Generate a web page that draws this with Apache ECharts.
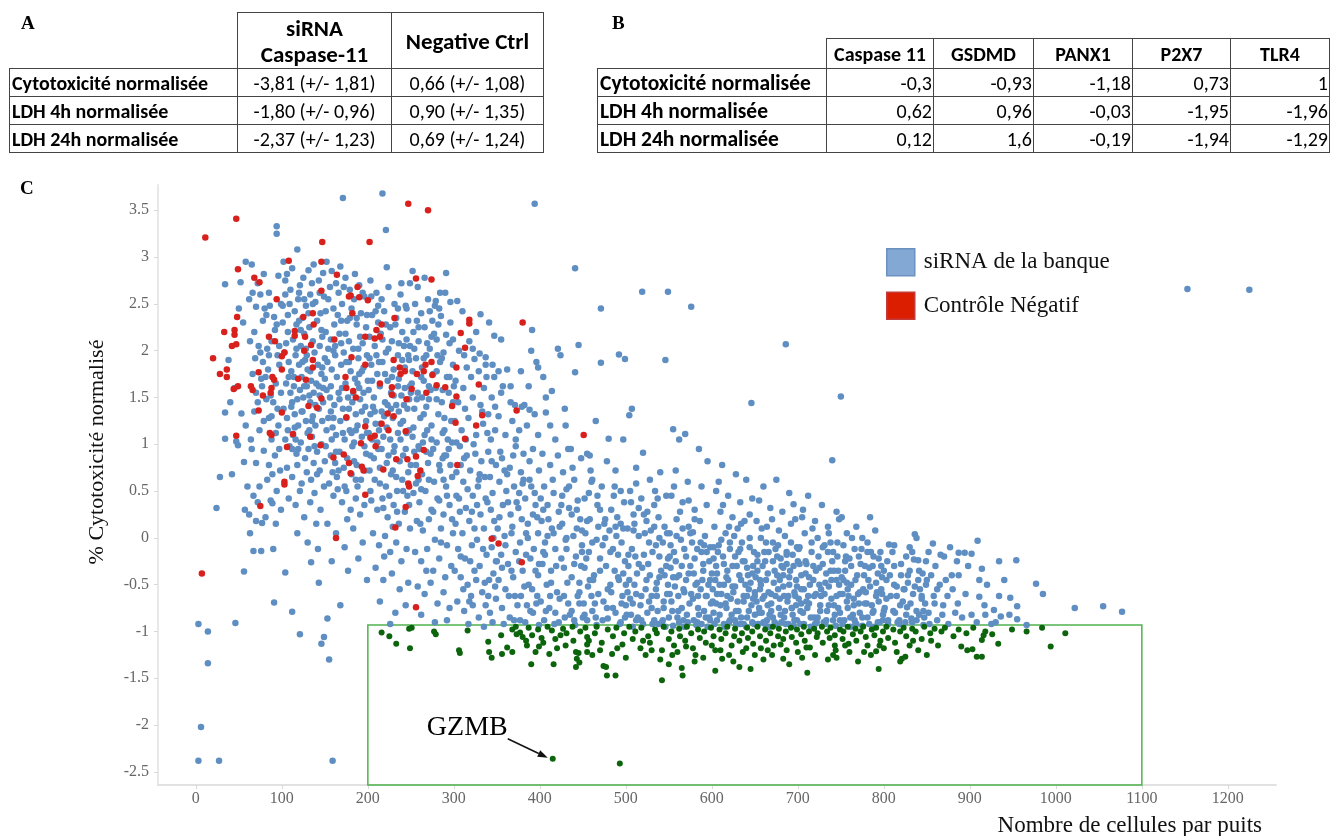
<!DOCTYPE html>
<html>
<head>
<meta charset="utf-8">
<script src="https://cdn.jsdelivr.net/npm/echarts/dist/echarts.min.js"></script>
<style>
html,body{margin:0;padding:0;background:#fff;overflow:hidden;}
#chart{position:absolute;left:0;top:0;width:1338px;height:836px;}
.tbl{position:absolute;border-collapse:collapse;table-layout:fixed;font-family:"Carlito","Lato",sans-serif;color:#000;z-index:5;}
.tbl td,.tbl th{border:1px solid #444;padding:0 3px;white-space:nowrap;overflow:hidden;}
.tbl td.blank{border-top:none;border-left:none;}
.tbl th{font-weight:bold;text-align:center;}
.tbl td.lab{font-weight:bold;text-align:left;padding-left:2px;}
.panel{position:absolute;font-family:"Liberation Serif",serif;font-weight:bold;font-size:19px;color:#000;z-index:5;}
</style>
</head>
<body>
<div id="chart"></div>
<div class="panel" style="left:21px;top:12px">A</div>
<div class="panel" style="left:612px;top:12px">B</div>
<table id="tA" class="tbl" style="left:9px;top:12px"></table>
<table id="tB" class="tbl" style="left:597px;top:38px"></table>
<script>
// ---------- table data ----------
const tableAHeaders = ["siRNA<br>Caspase-11", "Negative Ctrl"];
const tableARows = ["Cytotoxicité normalisée", "LDH 4h normalisée", "LDH 24h normalisée"];
const tableASiRNA = ["-3,81 (+/- 1,81)", "-1,80 (+/- 0,96)", "-2,37 (+/- 1,23)"];
const tableANeg = ["0,66 (+/- 1,08)", "0,90 (+/- 1,35)", "0,69 (+/- 1,24)"];

const tableBHeaders = ["Caspase 11", "GSDMD", "PANX1", "P2X7", "TLR4"];
const tableBRows = ["Cytotoxicité normalisée", "LDH 4h normalisée", "LDH 24h normalisée"];
const tableBCytotox = ["-0,3", "-0,93", "-1,18", "0,73", "1"];
const tableBLdh4 = ["0,62", "0,96", "-0,03", "-1,95", "-1,96"];
const tableBLdh24 = ["0,12", "1,6", "-0,19", "-1,94", "-1,29"];

// ---------- axis ticks ----------
const xTicks = [0, 100, 200, 300, 400, 500, 600, 700, 800, 900, 1000, 1100, 1200];
const yTicks = [-2.5, -2, -1.5, -1, -0.5, 0, 0.5, 1, 1.5, 2, 2.5, 3, 3.5];
const xRange = [-44, 1256];
const yRange = [-2.64, 3.77];

// ---------- hit window & annotation ----------
const hitBox = { x0: 200, x1: 1100, yTop: -0.93 };
const gzmbPoint = [415, -2.36];
const gzmbName = "GZMB";

// ---------- scatter data (cells per well, normalised cytotoxicity) ----------
const blueData = [
[3,-0.92],[14,-1.0],[14,-1.34],[46,-0.91],[6,-2.02],[3,-2.38],[27,-2.38],[34,2.71],[34,1.34],[34,1.06],[42,0.68],[52,2.73],[53,1.33],[47,1.03],[49,0.99],[56,0.81],[24,0.32],[57,0.3],[56,-0.36],[58,2.95],[45,1.6],[38,1.9],[55,2.3],[50,2.45],[40,1.45],[58,1.2],[28,0.65],
[62,0.25],[70,0.18],[77,0.16],[89,0.37],[67,-0.14],[76,-0.14],[91,-0.69],[94,3.33],[94,3.25],
[65,2.92],[72,2.72],[62,2.55],[75,2.6],[80,2.45],[82,2.38],[78,2.32],[70,2.47],[86,2.48],[91,2.36],[68,2.2],[88,2.1],[75,1.98],[95,1.95],[84,1.8],[66,1.75],[93,1.65],[77,1.62],[99,1.55],[90,1.45],[68,1.35],[85,1.28],[96,1.2],[74,1.15],[88,1.05],[64,1.05],[79,0.93],[92,0.88],[70,0.8],[98,0.72],[83,0.62],[60,0.55],[94,0.5],[87,0.4],[72,0.38],[99,0.3],[81,0.22],[63,0.05],[90,-0.12],[96,2.8],[85,2.62],[92,2.22],[73,2.05],[97,1.85],[81,1.72],[70,1.55],[87,1.52],[95,1.38],[79,1.25],[65,0.95],[85,0.78],[97,0.95],[74,0.55],[89,0.68],[67,0.45],[93,0.15],[83,2.02],[78,1.88],[99,2.5],[72,1.45],
[102,2.95],[106,2.82],[112,2.88],[118,3.08],[121,2.7],[125,2.78],[131,2.86],[137,2.92],[143,2.75],[148,2.83],[104,2.6],[109,2.5],[115,2.42],[119,2.55],[124,2.35],[128,2.48],[133,2.6],[139,2.52],[145,2.4],[149,2.58],[101,2.3],[107,2.2],[113,2.12],[117,2.28],[122,2.05],[126,2.18],[132,2.25],[136,2.1],[141,2.32],[147,2.15],[103,1.98],[108,1.88],[111,1.78],[116,1.95],[120,1.85],[123,1.72],[127,1.9],[130,1.8],[134,1.68],[138,1.98],[142,1.85],[146,1.75],[150,1.92],[105,1.65],[110,1.55],[114,1.62],[118,1.48],[121,1.58],[125,1.5],[129,1.62],[133,1.45],[137,1.55],[140,1.65],[144,1.52],[148,1.6],[102,1.38],[106,1.28],[111,1.4],[115,1.32],[119,1.2],[124,1.35],[128,1.25],[132,1.15],[136,1.3],[139,1.2],[143,1.38],[147,1.25],[104,1.05],[109,0.98],[113,1.1],[117,0.9],[122,1.02],[127,0.85],[131,0.95],[135,1.08],[141,0.92],[146,1.0],[150,0.82],[106,0.75],[112,0.65],[118,0.78],[123,0.58],[129,0.7],[134,0.62],[138,0.48],[144,0.72],[149,0.55],[108,0.42],[116,0.35],[121,0.5],[126,0.22],[133,0.38],[140,0.15],[145,0.3],[104,-0.37],[112,-0.79],[121,-1.03],[134,-0.26],[143,-0.48],[146,-1.13],[149,-1.06],[130,-0.05],[118,0.05],[142,-0.12],[110,2.65],[135,2.72],[128,2.02],[114,1.72],[139,1.42],[107,1.15],[126,1.62],[131,2.4],[144,2.05],[120,2.62],[137,0.8],[116,1.05],[124,1.88],
[171,3.63],[155,-1.3],[153,-0.86],[168,-0.72],[159,-2.38],
[152,2.95],[158,2.85],[163,2.72],[168,2.9],[174,2.78],[179,2.65],[185,2.82],[190,2.7],[196,2.58],[154,2.55],[160,2.45],[165,2.38],[170,2.5],[176,2.32],[181,2.45],[187,2.28],[192,2.4],[198,2.25],[151,2.2],[157,2.12],[162,2.05],[167,2.18],[172,1.98],[178,2.1],[183,2.02],[189,1.92],[194,2.08],[199,1.95],[153,1.88],[158,1.8],[164,1.72],[169,1.85],[174,1.65],[180,1.78],[185,1.7],[190,1.6],[195,1.82],[200,1.68],[152,1.58],[156,1.5],[161,1.42],[166,1.55],[171,1.38],[177,1.5],[182,1.45],[186,1.32],[191,1.48],[197,1.4],[154,1.28],[159,1.18],[163,1.1],[168,1.25],[173,1.05],[179,1.15],[184,1.02],[188,1.2],[193,1.08],[199,1.12],[151,0.98],[157,0.88],[162,0.8],[167,0.92],[172,0.75],[176,0.85],[181,0.68],[187,0.78],[192,0.62],[197,0.72],[155,0.58],[160,0.45],[165,0.52],[170,0.38],[175,0.5],[180,0.3],[186,0.42],[191,0.25],[196,0.35],[153,0.15],[163,0.05],[173,-0.1],[183,0.1],[194,-0.05],[158,-0.25],[177,-0.35],[189,-0.22],[199,-0.45],[166,2.62],[184,2.55],[161,2.28],[178,1.88],[195,1.55],[170,1.6],[186,1.15],[164,0.65],[198,0.9],[175,1.28],[157,1.35],[182,0.98],[169,2.32],[191,2.15],[193,1.78],[150,1.7],[188,0.55],[176,0.2],[160,2.0],
[217,3.68],[221,3.29],[222,2.89],
[203,2.75],[210,2.62],[216,2.55],[224,2.68],[231,2.5],[238,2.6],[245,2.45],[249,2.72],[205,2.38],[212,2.3],[219,2.42],[226,2.25],[233,2.35],[240,2.2],[247,2.32],[202,2.15],[208,2.05],[215,2.18],[221,1.98],[228,2.1],[235,1.95],[242,2.05],[248,1.9],[204,1.85],[211,1.75],[217,1.88],[223,1.68],[230,1.8],[236,1.7],[243,1.82],[249,1.62],[201,1.58],[207,1.5],[214,1.62],[220,1.45],[227,1.55],[233,1.42],[239,1.52],[246,1.38],[203,1.32],[209,1.22],[216,1.35],[222,1.18],[229,1.28],[235,1.12],[241,1.25],[248,1.15],[205,1.05],[212,0.95],[218,1.08],[224,0.88],[231,0.98],[237,0.82],[244,0.95],[250,0.78],[202,0.72],[208,0.62],[214,0.75],[221,0.55],[227,0.68],[234,0.5],[240,0.62],[246,0.45],[204,0.4],[211,0.3],[217,0.42],[223,0.22],[230,0.35],[236,0.15],[243,0.28],[249,0.1],[206,0.05],[213,-0.08],[220,0.02],[226,-0.15],[233,-0.05],[239,-0.25],[245,-0.12],[209,-0.32],[218,-0.45],[228,-0.38],[237,-0.55],[247,-0.48],[214,-0.68],[232,-0.8],[244,-0.72],[226,-0.92],[210,1.95],[228,1.72],[245,2.12],[219,1.3],[238,1.05],[207,0.85],[225,0.45],[241,0.5],[212,2.48],[235,2.45],[230,1.52],[216,0.95],[248,1.48],[203,0.5],[222,0.8],[240,1.9],[234,0.28],[247,0.7],[206,1.4],[229,0.12],[243,1.6],[213,1.15],[236,1.35],[219,-0.2],
[252,2.85],[258,2.68],[266,2.78],[279,2.53],[291,2.83],[290,2.62],[278,2.48],[285,2.37],[291,2.17],[255,2.5],[262,2.4],[270,2.55],[275,2.32],[283,2.45],[296,2.3],[253,2.2],[259,2.1],[266,2.25],[272,2.02],[280,2.12],[288,1.98],[295,2.08],[256,1.92],[263,1.82],[268,1.95],[276,1.75],[284,1.88],[292,1.72],[299,1.85],[251,1.65],[258,1.55],[265,1.68],[271,1.48],[279,1.6],[286,1.45],[294,1.55],[254,1.38],[261,1.28],[268,1.4],[274,1.2],[282,1.32],[289,1.15],[297,1.25],[252,1.08],[259,0.98],[266,1.1],[273,0.9],[280,1.02],[287,0.85],[294,0.95],[256,0.78],[263,0.68],[270,0.8],[277,0.6],[284,0.72],[291,0.55],[298,0.65],[253,0.48],[260,0.38],[267,0.5],[274,0.3],[281,0.42],[288,0.25],[295,0.35],[257,0.18],[264,0.08],[271,0.2],[278,-0.02],[285,0.1],[292,-0.08],[299,0.05],[255,-0.15],[262,-0.25],[269,-0.12],[276,-0.35],[283,-0.22],[290,-0.42],[297,-0.3],[258,-0.52],[266,-0.6],[273,-0.48],[281,-0.7],[288,-0.58],[295,-0.75],[262,-0.82],[278,-0.9],[292,-0.88],[252,1.78],[269,1.15],[287,1.58],[259,0.62],[276,0.95],[293,1.05],[265,1.92],[282,2.28],[298,0.2],[257,2.32],[271,0.62],[289,0.88],[254,0.92],[268,-0.35],[285,-0.05],[299,1.45],[263,1.5],[280,1.78],[296,0.78],[274,2.15],[261,0.15],[283,0.4],
[304,2.53],[331,2.39],[326,2.2],[347,2.16],[324,1.91],[330,1.97],[337,1.93],[337,1.85],[347,1.72],[329,1.78],[310,2.42],[318,2.1],[341,2.3],[306,2.0],[315,1.82],[302,1.68],[311,1.6],[320,1.72],[335,1.6],[344,1.5],[305,1.45],[313,1.38],[322,1.5],[331,1.42],[340,1.32],[348,1.4],[301,1.25],[309,1.15],[317,1.28],[326,1.1],[334,1.22],[343,1.05],[307,0.98],[315,0.88],[323,1.0],[332,0.82],[340,0.92],[349,0.78],[303,0.7],[311,0.6],[319,0.72],[328,0.55],[336,0.65],[345,0.48],[306,0.42],[314,0.32],[322,0.45],[331,0.25],[339,0.38],[347,0.18],[302,0.15],[310,0.05],[318,0.18],[327,-0.02],[335,0.1],[344,-0.1],[305,-0.12],[313,-0.22],[321,-0.08],[330,-0.3],[338,-0.18],[346,-0.38],[308,-0.42],[316,-0.5],[324,-0.35],[333,-0.58],[341,-0.45],[349,-0.65],[304,-0.68],[312,-0.78],[320,-0.62],[329,-0.85],[337,-0.72],[345,-0.9],[317,-0.92],[335,-0.95],[312,1.95],[338,1.72],[325,0.9],[342,0.65],[308,0.78],[327,0.35],[346,0.0],[301,-0.35],[319,-0.25],[336,-0.48],[348,1.15],[314,1.05],[330,0.68],[343,0.3],[307,0.28],[322,-0.72],[340,-0.62],[303,1.02],[333,1.35],[316,0.52],[349,-0.25],[324,0.1],[311,-0.55],[339,1.12],
[394,3.57],[390,2.0],[396,1.88],[398,1.82],[391,2.22],[387,1.62],[382,1.42],[388,1.37],[379,1.4],[371,1.42],[362,1.8],[355,1.55],[368,1.25],[376,1.15],[385,1.2],[398,1.1],[352,1.3],[360,1.1],[372,0.98],[381,0.9],[392,0.95],[356,0.85],[365,0.75],[378,0.7],[388,0.62],[399,0.72],[353,0.6],[361,0.5],[370,0.55],[383,0.42],[394,0.48],[357,0.35],[366,0.25],[375,0.32],[386,0.15],[397,0.22],[351,0.1],[359,0.02],[368,0.12],[377,-0.05],[384,0.05],[393,-0.12],[355,-0.18],[363,-0.28],[372,-0.15],[380,-0.35],[389,-0.22],[398,-0.4],[352,-0.45],[360,-0.55],[369,-0.42],[378,-0.62],[387,-0.5],[396,-0.7],[356,-0.75],[365,-0.85],[374,-0.72],[383,-0.9],[392,-0.8],[399,-0.93],[358,-0.92],[371,-0.62],[384,-0.18],[395,0.35],[362,0.68],[379,0.2],[391,-0.55],[354,0.92],[367,-0.35],[388,0.82],[376,0.48],[398,0.05],[350,-0.25],[363,0.38],[385,-0.72],[372,1.05],[357,1.62],[394,1.32],[366,1.45],[381,0.62],[352,1.78],[399,-0.28],[369,0.88],[390,0.55],[360,-0.08],[377,-0.88],
[441,2.88],[445,2.06],[421,2.02],[424,1.95],[441,1.77],[414,1.57],[407,1.5],[407,1.34],[430,1.2],[418,1.05],[436,0.95],[448,0.85],[403,0.9],[412,0.78],[427,0.7],[440,0.62],[405,0.55],[416,0.48],[431,0.52],[444,0.4],[409,0.35],[422,0.28],[434,0.32],[447,0.2],[402,0.18],[414,0.1],[426,0.15],[439,0.02],[449,0.08],[406,-0.05],[418,-0.12],[430,-0.02],[442,-0.2],[403,-0.28],[413,-0.35],[425,-0.22],[437,-0.42],[448,-0.3],[408,-0.5],[420,-0.58],[432,-0.48],[444,-0.62],[401,-0.68],[411,-0.75],[423,-0.65],[435,-0.82],[446,-0.7],[405,-0.88],[417,-0.92],[429,-0.85],[441,-0.93],[450,-0.85],[415,0.62],[438,0.75],[428,-0.32],[409,0.02],[446,-0.48],[421,0.88],[433,-0.7],[404,0.3],[443,0.1],[426,0.45],[412,-0.62],[449,-0.15],[437,0.25],[418,-0.8],[431,0.0],[406,-0.18],[440,-0.88],[423,0.12],
[471,2.45],[471,1.87],[492,1.96],[499,1.91],[480,1.06],[497,1.05],[465,1.25],[455,0.9],[478,0.82],[488,0.72],[460,0.6],[472,0.55],[494,0.5],[452,0.42],[467,0.35],[483,0.3],[498,0.38],[458,0.2],[475,0.15],[490,0.22],[453,0.05],[466,-0.02],[481,0.08],[495,-0.05],[457,-0.15],[470,-0.22],[485,-0.12],[499,-0.25],[452,-0.32],[463,-0.4],[477,-0.3],[492,-0.45],[456,-0.52],[468,-0.6],[482,-0.5],[496,-0.62],[451,-0.7],[461,-0.78],[474,-0.68],[488,-0.8],[500,-0.72],[455,-0.88],[466,-0.93],[479,-0.86],[493,-0.92],[459,0.72],[486,0.45],[473,-0.08],[497,-0.38],[462,-0.45],[489,0.02],[454,-0.22],[478,-0.75],[494,0.15],[470,0.3],[483,-0.58],[465,-0.85],[491,-0.18],[457,0.48],[476,0.0],[499,-0.85],[468,0.12],[487,-0.35],[460,-0.62],[495,-0.7],
[507,1.38],[504,1.31],[520,0.91],[519,2.63],[549,2.63],[546,1.9],[512,0.75],[528,0.62],[540,0.7],[505,0.5],[518,0.42],[533,0.35],[547,0.45],[509,0.25],[524,0.18],[538,0.22],[502,0.1],[515,0.02],[529,0.08],[543,-0.05],[507,-0.12],[521,-0.18],[535,-0.08],[549,-0.22],[503,-0.3],[513,-0.38],[526,-0.28],[539,-0.42],[510,-0.5],[523,-0.55],[536,-0.48],[548,-0.6],[505,-0.65],[517,-0.72],[530,-0.62],[544,-0.75],[501,-0.82],[512,-0.88],[525,-0.8],[538,-0.92],[550,-0.85],[508,-0.95],[520,-0.92],[533,-0.88],[546,-0.95],[515,0.32],[531,-0.15],[545,0.12],[504,-0.45],[527,-0.68],[541,-0.35],[511,-0.2],[537,-0.78],[522,0.05],[549,-0.5],[506,0.38],[534,0.5],[518,-0.62],[543,-0.88],[528,-0.4],[514,-0.85],[539,0.0],[502,-0.58],[525,0.28],[547,-0.3],[510,0.15],[531,-0.92],[519,-0.32],[544,-0.68],[535,-0.55],[508,-0.7],
[576,2.47],[555,1.16],[569,1.11],[562,1.05],[585,0.95],[595,0.82],[558,0.72],[572,0.6],[588,0.55],[553,0.45],[566,0.38],[580,0.3],[594,0.35],[559,0.2],[573,0.12],[586,0.18],[551,0.05],[564,-0.02],[578,0.06],[591,-0.08],[556,-0.15],[570,-0.2],[583,-0.12],[597,-0.25],[552,-0.32],[562,-0.4],[575,-0.3],[589,-0.45],[600,-0.38],[557,-0.52],[568,-0.58],[581,-0.5],[594,-0.62],[553,-0.68],[565,-0.75],[578,-0.65],[591,-0.78],[560,-0.85],[572,-0.9],[585,-0.82],[598,-0.88],[555,-0.94],[568,-0.95],[582,-0.93],[595,-0.95],[563,0.28],[579,-0.38],[592,0.02],[558,-0.25],[574,-0.7],[587,-0.55],[551,-0.6],[566,0.1],[599,-0.7],[583,-0.9],[570,-0.45],[590,-0.28],[556,0.55],[577,-0.05],[596,-0.5],[561,-0.78],[588,-0.15],[573,0.4],[552,-0.08],[584,-0.62],[567,-0.88],[593,-0.85],[559,-0.42],[580,0.2],[598,-0.1],
[646,1.44],[612,0.78],[628,0.68],[640,0.62],[605,0.5],[619,0.45],[633,0.38],[647,0.42],[610,0.28],[624,0.22],[638,0.18],[603,0.12],[616,0.05],[630,0.1],[644,0.0],[608,-0.08],[621,-0.12],[635,-0.05],[649,-0.15],[602,-0.22],[614,-0.28],[627,-0.2],[641,-0.32],[606,-0.38],[619,-0.45],[632,-0.4],[645,-0.48],[601,-0.55],[611,-0.6],[624,-0.52],[637,-0.62],[650,-0.58],[605,-0.7],[617,-0.75],[630,-0.68],[643,-0.78],[609,-0.82],[621,-0.88],[634,-0.85],[647,-0.9],[603,-0.92],[615,-0.95],[628,-0.93],[640,-0.95],[613,0.35],[636,-0.25],[622,-0.65],[648,-0.65],[607,-0.15],[631,-0.78],[644,0.25],[618,-0.35],[626,0.02],[639,-0.5],[604,-0.45],[620,-0.9],[634,0.15],[650,-0.82],[611,-0.02],[642,-0.4],[625,-0.58],[608,0.6],[637,-0.92],[616,-0.7],[629,-0.3],[646,-0.72],[602,-0.8],[614,-0.5],[633,-0.12],[648,-0.3],[620,0.12],[641,-0.62],[606,-0.6],[627,-0.88],
[686,2.07],[660,0.55],[675,0.62],[690,0.48],[695,0.36],[655,0.4],[668,0.32],[682,0.28],[697,0.2],[652,0.18],[664,0.12],[678,0.08],[692,0.15],[657,0.0],[671,-0.05],[685,0.02],[699,-0.1],[653,-0.18],[666,-0.15],[680,-0.22],[694,-0.18],[659,-0.3],[673,-0.35],[687,-0.28],[651,-0.42],[663,-0.45],[676,-0.4],[690,-0.5],[656,-0.55],[669,-0.6],[683,-0.52],[697,-0.62],[652,-0.68],[665,-0.72],[679,-0.65],[693,-0.75],[658,-0.8],[671,-0.85],[685,-0.78],[699,-0.88],[654,-0.92],[667,-0.95],[681,-0.9],[695,-0.94],[662,-0.25],[677,-0.55],[691,-0.35],[655,-0.75],[670,0.2],[684,-0.85],[698,-0.45],[661,-0.62],[674,-0.12],[688,-0.68],[653,-0.35],[667,-0.82],[681,-0.3],[696,-0.58],[658,0.1],[672,-0.48],[686,-0.92],[700,-0.25],[664,-0.88],[678,-0.75],[692,-0.05],[657,-0.5],[683,-0.4],[669,-0.7],[694,-0.82],[660,-0.9],[676,-0.2],[689,-0.62],[663,-0.05],[687,-0.15],[675,-0.92],[698,-0.72],
[750,1.51],[740,0.83],[712,0.45],[728,0.35],[745,0.28],[705,0.22],[720,0.18],[735,0.12],[748,0.2],[708,0.05],[723,0.0],[738,-0.05],[702,-0.1],[716,-0.15],[731,-0.08],[746,-0.2],[710,-0.28],[725,-0.32],[740,-0.25],[704,-0.4],[718,-0.45],[733,-0.38],[748,-0.5],[707,-0.55],[721,-0.6],[736,-0.52],[701,-0.65],[713,-0.7],[727,-0.62],[742,-0.72],[706,-0.8],[719,-0.85],[734,-0.78],[749,-0.88],[703,-0.92],[715,-0.95],[730,-0.9],[744,-0.94],[724,-0.2],[739,-0.65],[711,-0.75],[747,-0.35],[717,0.1],[732,-0.48],[709,-0.38],[743,-0.82],[726,-0.72],[702,-0.28],[736,0.05],[720,-0.92],[749,-0.6],[714,-0.5],[729,-0.1],[745,-0.45],[706,0.3],[723,-0.85],[738,-0.35],[712,-0.62],[727,-0.55],[741,-0.15],[718,-0.3],[733,-0.88],[704,-0.7],[747,-0.75],
[751,0.22],[784,0.22],[768,0.12],[757,0.05],[775,0.0],[790,0.08],[753,-0.08],[766,-0.12],[781,-0.05],[796,-0.15],[760,-0.22],[773,-0.28],[788,-0.2],[755,-0.35],[769,-0.4],[783,-0.32],[798,-0.42],[762,-0.5],[776,-0.55],[791,-0.48],[752,-0.6],[765,-0.65],[779,-0.58],[794,-0.68],[758,-0.75],[772,-0.8],[786,-0.72],[800,-0.78],[754,-0.88],[767,-0.92],[781,-0.85],[795,-0.9],[761,-0.95],[775,-0.94],[789,-0.95],[763,0.0],[778,-0.3],[792,-0.58],[757,-0.48],[771,-0.7],[785,-0.15],[799,-0.88],[764,-0.82],[782,-0.45],[797,-0.3],[756,-0.2],[770,-0.6],[787,-0.8],[759,-0.62],[774,-0.12],[793,-0.38],[766,-0.88],[780,-0.7],[753,-0.45],[798,-0.6],
[806,-0.07],[830,-0.1],[836,0.04],[838,0.0],[852,-0.15],[826,-0.2],[835,-0.23],[840,-0.24],[849,-0.25],[812,-0.3],[820,-0.4],[845,-0.38],[803,-0.45],[815,-0.52],[828,-0.48],[842,-0.55],[808,-0.62],[822,-0.68],[834,-0.6],[848,-0.7],[801,-0.75],[813,-0.8],[827,-0.74],[841,-0.82],[805,-0.88],[818,-0.92],[832,-0.86],[846,-0.93],[810,-0.15],[824,-0.55],[838,-0.78],[850,-0.45],[816,-0.9],[830,-0.35],[844,-0.65],[804,-0.25],[819,-0.72],[833,-0.9],[847,-0.85],[812,-0.5],[826,-0.82],[840,-0.45],
[857,-0.06],[877,-0.1],[909,-0.03],[866,-0.18],[887,-0.16],[894,-0.16],[902,-0.17],[914,-0.33],[934,-0.25],[954,-0.24],[977,-0.49],[985,-0.6],[966,-0.93],[955,-0.73],[955,-0.87],[946,-0.82],[947,-0.64],[934,-0.62],[936,-0.84],[930,-0.9],[928,-0.77],[918,-0.82],[917,-0.72],[911,-0.63],[911,-0.45],[908,-0.9],[887,-0.4],[902,-0.82],[891,-0.85],[860,-0.3],[872,-0.45],[880,-0.55],[858,-0.62],[869,-0.72],[883,-0.8],[862,-0.88],[875,-0.92],[895,-0.6],[898,-0.3],[865,-0.5],[852,-0.8],[885,-0.25],[920,-0.5],[925,-0.92],[940,-0.45],[870,-0.2],
[1022,-0.75],[1055,-0.73],[1077,-0.79],[1153,2.66],[1225,2.65],
[63,2.1],[69,1.92],[76,1.7],[82,1.48],[88,1.3],[93,1.12],[97,2.05],[101,2.48],[105,2.08],[108,1.72],[112,1.45],[115,1.18],[119,0.95],[122,2.22],[126,2.55],[129,1.95],[132,1.52],[135,1.25],[138,0.98],[141,0.68],[144,2.62],[147,1.82],[151,2.42],[154,2.02],[157,1.62],[160,1.28],[163,0.92],[166,0.72],[169,2.08],[172,2.68],[175,1.88],[178,1.38],[181,1.12],[184,0.82],[187,2.35],[190,1.75],[193,1.35],[196,0.98],[199,2.38],[202,1.92],[205,1.68],[208,1.35],[211,1.02],[214,0.58],[217,2.12],[220,1.75],[223,1.42],[226,1.05],[229,0.72],[232,2.28],[235,1.62],[238,1.22],[241,0.88],[244,2.48],[247,1.95],[250,1.55],[253,1.18],[256,0.58],[259,2.25],[262,1.72],[265,1.32],[268,0.92],[271,1.62],[274,1.05],[277,2.18],[280,1.48],[283,0.78],[286,1.92],[289,1.28],[292,0.45],[295,1.72],[298,1.02],
[66,2.62],[79,2.82],[85,1.95],[104,2.75],[117,2.02],[123,1.35],[136,2.5],[148,1.45],[156,2.68],[167,1.48],[174,2.18],[183,1.55],[189,2.02],[198,1.25],[204,2.58],[213,1.88],[221,2.28],[227,1.38],[236,2.08],[242,1.42],[249,2.05],[257,1.48],[264,1.02],[272,2.42],[281,1.95],[288,0.62],[296,2.52],[159,0.7],[171,1.12],[186,0.62],[203,0.88],[218,0.32],[233,0.65],[248,0.35],[262,0.52],[276,0.28],[291,0.88],[112,0.95],[130,1.12],[143,1.62],[152,1.15],[162,1.95],[179,2.35],[194,2.62],[209,2.42],[224,2.02],[239,2.72],[254,2.02],[269,2.08],[284,2.62],[299,2.12],[94,2.28],[107,2.38],[120,2.32],[133,1.78],[146,2.22],[158,1.05],[173,0.55],[188,1.65],[201,1.12],[215,1.22],[230,0.92],[245,1.12],[260,0.95],[273,1.58],[287,1.12],[300,1.62],
[303,0.45],[308,-0.2],[312,0.85],[318,-0.68],[321,0.28],[326,-0.45],[329,0.62],[334,-0.12],[337,0.42],[342,-0.8],[344,0.82],[348,-0.52],[353,0.22],[356,-0.32],[359,0.72],[364,-0.62],[367,0.05],[370,-0.88],[373,0.38],[376,-0.25],[380,0.58],[382,-0.52],[386,0.0],[389,-0.78],[392,0.25],[395,-0.35],[397,-0.62],[401,0.42],[404,-0.15],[407,-0.78],[410,0.2],[413,-0.48],[416,0.05],[419,-0.3],[422,-0.9],[425,0.35],[428,-0.62],[431,-0.12],[434,0.55],[437,-0.78],[440,-0.28],[443,0.3],[446,-0.58],[449,-0.08],[452,-0.82],[455,0.18],[458,-0.45],[461,-0.05],[464,-0.7],[467,0.45],[470,-0.35],[473,-0.88],[476,0.2],[479,-0.55],[482,-0.15],[485,-0.75],[488,0.12],[491,-0.42],[494,-0.9],[497,0.1],[500,-0.5],[503,-0.18],[506,-0.82],[509,0.08],[512,-0.6],[515,-0.28],[518,-0.88],[521,0.25],[524,-0.45],[527,-0.05],[530,-0.75],[533,0.12],[536,-0.62],[539,-0.2],[542,-0.9],[545,-0.4],[548,0.05],[461,0.62],[487,0.55],[512,0.58],[537,0.42],[433,0.95],[458,0.88],[412,1.2],[429,1.38],[366,1.62],[345,1.85],[322,2.02],[378,1.78],[404,1.72],[355,2.12],
[551,-0.2],[554,-0.78],[555,-0.42],[559,0.02],[561,-0.62],[562,-0.9],[565,-0.3],[567,-0.55],[568,-0.12],[571,-0.82],[573,-0.38],[575,0.05],[576,-0.6],[579,-0.88],[580,-0.22],[583,-0.48],[584,-0.75],[587,-0.05],[588,-0.92],[590,-0.35],[593,-0.62],[594,-0.15],[597,-0.85],[598,-0.45],[601,-0.68],[602,-0.1],[605,-0.3],[606,-0.88],[609,-0.5],[610,-0.72],[613,-0.2],[614,-0.92],[617,-0.42],[618,-0.62],[621,-0.05],[623,-0.82],[624,-0.3],[627,-0.52],[628,-0.78],[631,-0.15],[633,-0.92],[634,-0.45],[637,-0.68],[638,-0.25],[641,-0.85],[643,-0.55],[644,-0.1],[647,-0.38],[649,-0.92],[650,-0.62],[653,-0.25],[655,-0.8],[656,-0.45],[659,-0.65],[661,-0.15],[662,-0.92],[665,-0.38],[666,-0.58],[669,-0.78],[671,-0.25],[673,-0.9],[674,-0.62],[677,-0.08],[679,-0.45],[680,-0.82],[683,-0.32],[684,-0.62],[687,-0.18],[689,-0.92],[690,-0.42],[693,-0.75],[695,-0.3],[696,-0.88],[699,-0.52],[701,-0.12],[703,-0.78],[704,-0.55],[707,-0.92],[709,-0.25],[710,-0.68],[713,-0.42],[715,-0.85],[716,-0.05],[719,-0.62],[721,-0.35],[722,-0.9],[725,-0.5],[726,-0.78],[729,-0.28],[731,-0.6],[732,-0.92],[735,-0.15],[736,-0.72],[739,-0.45],[741,-0.88],[742,-0.35],[745,-0.62],[746,-0.05],[749,-0.8],[751,-0.42],[752,-0.92],[755,-0.25],[757,-0.68],[758,-0.55],[761,-0.85],[762,-0.3],[765,-0.72],[767,-0.45],[768,-0.92],[771,-0.2],[772,-0.58],[775,-0.85],[777,-0.4],[778,-0.7],[781,-0.15],[783,-0.92],[784,-0.52],[787,-0.3],[788,-0.78],[791,-0.62],[793,-0.9],[794,-0.22],[797,-0.55],[799,-0.82],[800,-0.35],[803,-0.65],[805,-0.92],[807,-0.4],[811,-0.78],[812,-0.08],[815,-0.62],[818,-0.88],[820,-0.28],[823,-0.55],[825,-0.9],[828,-0.4],[831,-0.7],[833,-0.15],[836,-0.52],[838,-0.88],[841,-0.35],[844,-0.62],[846,-0.78],[849,-0.5],[853,-0.92],[855,-0.4],[859,-0.7],[862,-0.55],[868,-0.82],[874,-0.62],[879,-0.4],[886,-0.7]
];

const redData = [
[11,3.21],[47,3.41],[108,2.96],[147,3.16],[202,3.16],[247,3.57],[270,3.5],[49,2.87],[68,2.78],[74,2.73],[146,2.95],[164,2.81],[188,2.68],[146,2.64],[180,2.59],[200,2.54],[256,2.77],[274,2.76],[94,2.55],[48,2.36],[33,2.2],[45,2.22],[45,2.17],[47,2.07],[42,2.05],[20,1.92],[28,1.75],[36,1.8],[36,1.72],[44,1.59],[49,1.62],[66,1.58],[64,1.62],[78,1.52],[87,1.55],[88,1.6],[73,1.36],[73,1.77],[89,1.72],[91,1.69],[100,1.8],[100,1.94],[103,1.98],[92,2.1],[85,2.15],[115,2.16],[115,2.21],[127,2.15],[126,2.0],[125,2.36],[136,2.4],[137,2.28],[134,2.06],[136,1.9],[136,1.82],[119,1.7],[128,1.69],[141,1.39],[131,1.41],[100,1.34],[88,1.1],[86,1.12],[47,1.09],[113,1.11],[133,1.08],[145,0.99],[106,0.97],[160,0.86],[103,0.6],[178,0.8],[180,0.69],[193,0.76],[195,0.72],[218,0.73],[233,0.84],[246,0.84],[256,0.87],[247,0.58],[258,0.66],[224,1.15],[244,1.14],[223,1.33],[230,1.3],[216,1.22],[208,1.09],[197,1.19],[214,1.65],[228,1.61],[230,1.9],[237,1.82],[243,1.78],[238,1.75],[267,1.85],[257,1.75],[251,1.59],[245,1.48],[228,1.53],[214,2.15],[210,2.22],[216,2.28],[197,2.15],[208,2.13],[197,1.85],[175,1.6],[183,1.57],[174,1.72],[186,1.5],[175,1.29],[172,0.89],[203,1.07],[192,1.01],[209,0.98],[146,1.49],[181,1.93],[190,2.57],[178,2.58],[182,2.4],[161,2.12],
[274,1.88],[265,1.78],[275,1.74],[280,1.63],[290,1.61],[303,1.82],[329,1.64],[268,1.55],[303,1.51],[298,1.41],[333,1.31],[302,1.23],[326,1.2],[373,1.36],[451,1.1],[313,1.06],[265,0.94],[304,0.78],[261,0.72],[318,2.33],[318,2.29],[380,2.3],[308,2.19],[313,2.03],[231,2.35],
[7,-0.38],[75,0.34],[103,0.57],[163,0.0],[232,0.11],[256,-0.74],[344,-0.01],[352,-0.06],[379,-0.26],[197,0.46],[248,0.55],[244,0.33]
];

const greenData = [
[216,-1.01],[225,-1.05],[233,-1.13],[249,-1.18],[248,-0.97],[251,-0.96],[277,-1.0],[279,-1.03],[306,-1.2],[307,-1.23],[316,-0.99],[340,-1.11],[341,-1.22],[344,-1.28],[355,-1.04],[356,-1.24],[362,-1.17],[368,-1.22],[368,-0.98],[373,-1.03],[380,-1.06],[384,-1.1],[390,-1.35],[399,-1.16],[404,-1.12],[411,-1.24],[416,-1.35],[414,-0.99],[424,-1.04],[430,-1.15],[442,-1.22],[443,-1.29],[442,-1.38],[439,-1.1],[455,-1.06],[455,-1.22],[445,-1.23],[446,-1.33],[474,-1.37],[477,-1.38],[478,-1.47],[488,-1.47],[542,-1.52],[565,-1.39],[566,-1.47],[604,-1.42],[632,-1.38],[645,-1.4],[711,-1.44],[794,-1.4],[821,-1.29],[825,-1.27],[908,-1.27],[933,-1.13],[916,-1.04],[918,-1.0],[914,-1.09],[914,-1.27],[994,-1.16],[1011,-1.02],[897,-1.2],[903,-1.19],[890,-1.16],[855,-1.1],[863,-1.15],[834,-1.1],[819,-1.32],[791,-1.21],[777,-1.22],[743,-1.15],[741,-1.25],[683,-1.29],[670,-1.25],[612,-1.29],[581,-1.25],[554,-1.25],[523,-1.25],[484,-1.24],[461,-1.25],[415,-2.36],[493,-2.41],
[372,-0.95],[377,-1.01],[387,-0.96],[391,-1.04],[398,-0.98],[402,-1.07],[409,-0.95],[418,-1.08],[427,-0.97],[431,-1.02],[438,-0.95],[447,-1.0],[453,-0.96],[457,-1.1],[464,-1.02],[466,-0.95],[472,-1.12],[479,-0.98],[485,-1.05],[489,-0.96],[496,-1.14],[498,-1.02],[504,-0.95],[508,-1.08],[511,-1.0],[517,-1.18],[518,-0.96],[526,-1.05],[528,-1.12],[534,-0.98],[536,-1.02],[542,-1.2],[544,-0.95],[550,-1.08],[553,-1.0],[556,-1.15],[562,-0.97],[563,-1.05],[569,-1.1],[571,-0.95],[576,-1.02],[578,-1.18],[584,-0.98],[586,-1.07],[591,-1.0],[593,-1.12],[599,-0.96],[602,-1.05],[604,-1.2],[609,-0.98],[611,-1.08],[616,-1.02],[618,-0.95],[623,-1.15],[626,-1.05],[627,-0.97],[632,-1.1],[635,-1.02],[636,-1.22],[641,-0.96],[642,-1.07],[647,-1.0],[648,-1.13],[653,-0.95],[656,-1.05],[657,-1.18],[662,-0.98],[663,-1.1],[668,-1.02],[671,-0.95],[672,-1.15],[677,-1.05],[678,-0.97],[683,-1.08],[686,-1.0],[687,-1.2],[692,-0.96],[693,-1.06],[698,-1.12],[699,-0.98],[704,-1.03],[707,-0.95],[708,-1.1],[713,-1.0],[714,-1.17],[719,-0.97],[722,-1.06],[723,-1.02],[728,-0.95],[729,-1.12],[734,-1.0],[737,-1.07],[738,-0.96],[743,-1.04],[744,-1.2],[749,-0.98],[752,-1.08],[753,-1.0],[758,-0.95],[759,-1.13],[764,-1.03],[767,-0.97],[768,-1.1],[773,-1.0],[776,-0.95],[779,-1.06],[781,-1.15],[786,-0.98],[789,-1.04],[791,-0.96],[796,-1.1],[799,-1.0],[803,-0.95],[805,-1.07],[811,-0.98],[813,-1.12],[819,-1.0],[823,-0.96],[826,-1.05],[833,-0.97],[837,-1.0],[844,-1.08],[847,-0.95],[854,-1.02],[859,-0.97],[867,-1.0],[871,-0.96],[881,-1.05],[887,-0.98],[896,-1.02],[904,-0.96],[926,-1.03],[949,-0.98],[966,-1.0],[984,-0.96],
[520,-1.1],[560,-1.22],[600,-1.15],[640,-1.18],[680,-1.14],[720,-1.25],[760,-1.22],[800,-1.18],[840,-1.2],[620,-1.25],[660,-1.3],[700,-1.22],[580,-1.32],[540,-1.3],[500,-1.28],[470,-1.2],[735,-1.3],[770,-1.32],[815,-1.22],[850,-1.25],[690,-1.35],[650,-1.25],[610,-1.2],[570,-1.16],[530,-1.2],[490,-1.18],[455,-1.14],[420,-1.18],[395,-1.22],[385,-1.15],[705,-1.28],[745,-1.28],[785,-1.25],[625,-1.32],[590,-1.28],[550,-1.35],[665,-1.2],[710,-1.17],[755,-1.15],[795,-1.15],[830,-1.15]
];

// ---------- build tables ----------
(function buildTables() {
  const tA = document.getElementById('tA');
  let h = '<colgroup><col style="width:228px"><col style="width:154px"><col style="width:152px"></colgroup>';
  h += '<tr style="height:56px"><td class="blank"></td>';
  tableAHeaders.forEach(t => { h += '<th style="font-size:23px;line-height:26px">' + t + '</th>'; });
  h += '</tr>';
  tableARows.forEach((r, i) => {
    h += '<tr style="height:28px"><td class="lab" style="font-size:20px">' + r + '</td>' +
      '<td style="text-align:center;font-size:20px">' + tableASiRNA[i] + '</td>' +
      '<td style="text-align:center;font-size:20px">' + tableANeg[i] + '</td></tr>';
  });
  tA.innerHTML = h;

  const tB = document.getElementById('tB');
  const rowsB = [tableBCytotox, tableBLdh4, tableBLdh24];
  let g = '<colgroup><col style="width:229px"><col style="width:107px"><col style="width:100px"><col style="width:99px"><col style="width:98px"><col style="width:99px"></colgroup>';
  g += '<tr style="height:30px"><td class="blank"></td>';
  tableBHeaders.forEach(t => { g += '<th style="font-size:20px">' + t + '</th>'; });
  g += '</tr>';
  tableBRows.forEach((r, i) => {
    g += '<tr style="height:28px"><td class="lab" style="font-size:21.5px">' + r + '</td>';
    rowsB[i].forEach(v => { g += '<td style="text-align:right;font-size:20px;padding-right:1px">' + v + '</td>'; });
    g += '</tr>';
  });
  tB.innerHTML = g;
})();

// ---------- chart ----------
const chart = echarts.init(document.getElementById('chart'), null, { renderer: 'canvas' });
const serif = '"Liberation Serif", "Times New Roman", serif';

const option = {
  animation: false,
  grid: { left: 158, right: 62, top: 185, bottom: 51, containLabel: false },
  xAxis: {
    type: 'value', min: xRange[0], max: xRange[1],
    axisLine: { show: true, onZero: false, lineStyle: { color: '#e2e2e2', width: 2 } },
    axisTick: { show: true, customValues: xTicks, length: 4, lineStyle: { color: '#d8d8d8' } },
    axisLabel: { customValues: xTicks, formatter: v => String(v), fontFamily: serif, fontSize: 16, color: '#666', margin: 6 },
    splitLine: { show: false }
  },
  yAxis: {
    type: 'value', min: yRange[0], max: yRange[1],
    axisLine: { show: true, onZero: false, lineStyle: { color: '#e8e8e8', width: 2 } },
    axisTick: { show: true, customValues: yTicks, length: 4, lineStyle: { color: '#d8d8d8' } },
    axisLabel: { customValues: yTicks, formatter: v => String(v), fontFamily: serif, fontSize: 16, color: '#666', margin: 9 },
    splitLine: { show: false }
  },
  legend: {
    orient: 'vertical', left: 881, top: 243,
    itemWidth: 28, itemHeight: 27, itemGap: 15,
    icon: 'rect',
    textStyle: { fontFamily: serif, fontSize: 23, color: '#111', padding: [0, 0, 0, 4] },
    data: [
      { name: 'siRNA de la banque', itemStyle: { color: '#82a8d3', borderColor: '#6a91bf', borderWidth: 1.5 } },
      { name: 'Contrôle Négatif', itemStyle: { color: '#dc1e00', borderColor: '#c43a3a', borderWidth: 1.5 } }
    ],
    selectedMode: false
  },
  series: [
    {
      name: 'siRNA de la banque', type: 'scatter', data: blueData,
      symbolSize: 6.5, itemStyle: { color: '#5e8ec2', opacity: 1 }, silent: true
    },
    {
      name: 'Contrôle Négatif', type: 'scatter', data: redData,
      symbolSize: 6.5, itemStyle: { color: '#d8201c', opacity: 1 }, silent: true
    },
    {
      name: 'hits', type: 'scatter', data: greenData,
      symbolSize: 6, itemStyle: { color: '#0c650c', opacity: 1 }, silent: true,
      markArea: {
        silent: true,
        itemStyle: { color: 'rgba(0,0,0,0)', borderColor: '#4fb34f', borderWidth: 1.5 },
        data: [[{ xAxis: hitBox.x0, yAxis: hitBox.yTop }, { xAxis: hitBox.x1, yAxis: yRange[0] }]]
      }
    }
  ]
};
chart.setOption(option);

// annotations: panel letter C, axis titles, GZMB arrow
const p = chart.convertToPixel({ gridIndex: 0 }, gzmbPoint);
const tip = [p[0] - 5, p[1] - 1];
const start = [p[0] - 45, p[1] - 20];
const dx = tip[0] - start[0], dy = tip[1] - start[1];
const L = Math.sqrt(dx * dx + dy * dy);
const ux = dx / L, uy = dy / L;
const bx = tip[0] - ux * 10, by = tip[1] - uy * 10;
const nx = -uy, ny = ux;

chart.setOption({
  graphic: [
    { type: 'text', left: 20, top: 180, style: { text: 'C', font: 'bold 19px ' + serif, fill: '#000' } },
    { type: 'text', x: 97, y: 452, rotation: Math.PI / 2,
      style: { text: '% Cytotoxicité normalisé', font: '22px ' + serif, fill: '#111', textAlign: 'center', textVerticalAlign: 'middle' } },
    { type: 'text', x: 1262, y: 826,
      style: { text: 'Nombre de cellules par puits', font: '23px ' + serif, fill: '#111', textAlign: 'right', textVerticalAlign: 'middle' } },
    { type: 'text', x: start[0], y: p[1] - 31,
      style: { text: gzmbName, font: '28px ' + serif, fill: '#000', textAlign: 'right', textVerticalAlign: 'middle' } },
    { type: 'line', shape: { x1: start[0], y1: start[1], x2: bx, y2: by }, style: { stroke: '#111', lineWidth: 1.5 } },
    { type: 'polygon', shape: { points: [[tip[0], tip[1]], [bx + nx * 3.5, by + ny * 3.5], [bx - nx * 3.5, by - ny * 3.5]] }, style: { fill: '#111' } }
  ]
});
</script>
</body>
</html>
